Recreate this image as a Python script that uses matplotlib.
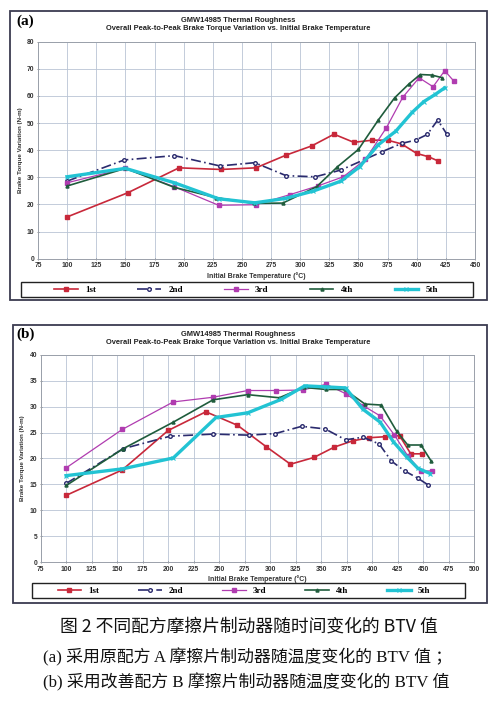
import matplotlib
matplotlib.use("Agg")
import matplotlib.pyplot as plt
from matplotlib.patches import Rectangle

W, H = 494, 703

# ---------------- data: panel (a) ----------------
a1_x = [100, 152, 196, 232, 262, 288, 310, 329, 346, 362, 375, 387, 400, 410, 418]
a1_y = [15.4, 24.3, 33.5, 32.9, 33.5, 38.2, 41.6, 45.9, 42.9, 43.7, 43.7, 42.3, 38.8, 37.6, 36.1]
a2_x = [100, 149, 192, 231, 261, 288, 313, 335, 370, 387, 399, 409, 418, 426]
a2_y = [28.6, 36.4, 38.0, 34.2, 35.4, 30.6, 30.2, 32.7, 39.4, 42.5, 43.7, 45.8, 51.1, 45.8]
a3_x = [100, 150, 192, 230, 262, 291, 315, 337, 356, 374, 388, 402, 414, 424, 432]
a3_y = [28.0, 33.3, 26.5, 19.7, 19.9, 23.6, 26.8, 30.2, 36.6, 48.3, 59.5, 66.7, 63.4, 69.3, 65.4]
a4_x = [100, 150, 192, 228, 260, 285, 314, 332, 350, 367, 381, 393, 403, 413, 422]
a4_y = [26.8, 33.3, 26.3, 22.5, 20.4, 20.5, 26.5, 33.9, 40.3, 51.1, 59.3, 64.3, 67.9, 67.7, 66.7]
a5_x = [100, 150, 192, 230, 261, 287, 311, 335, 351, 367, 382, 396, 406, 416, 424]
a5_y = [30.2, 33.3, 28.0, 22.1, 20.6, 22.2, 24.9, 28.6, 33.9, 42.0, 47.0, 53.9, 57.9, 60.6, 63.0]

# ---------------- data: panel (b) ----------------
b1_x = [100, 155, 200, 237, 268, 296, 320, 343, 363, 381, 397, 413, 427, 438, 449]
b1_y = [12.9, 17.8, 25.4, 29.0, 26.4, 22.3, 18.9, 20.2, 22.2, 23.4, 24.0, 24.2, 24.4, 20.9, 20.9]
b2_x = [100, 156, 202, 244, 279, 305, 331, 354, 374, 391, 407, 419, 432, 445, 455]
b2_y = [15.2, 21.9, 24.3, 24.7, 24.5, 24.8, 26.2, 25.7, 23.6, 24.1, 22.8, 19.5, 17.6, 16.2, 14.9]
b3_x = [100, 155, 205, 244, 278, 306, 332, 355, 374, 392, 408, 422, 435, 448, 459]
b3_y = [18.2, 25.6, 30.9, 31.8, 33.1, 33.1, 33.2, 34.3, 32.5, 30.1, 28.2, 24.5, 20.5, 17.6, 17.6]
b4_x = [100, 156, 205, 244, 278, 309, 333, 355, 373, 393, 409, 424, 435, 448, 458]
b4_y = [14.8, 21.9, 27.0, 31.3, 32.3, 31.7, 33.7, 33.3, 33.3, 30.5, 30.3, 25.3, 22.6, 22.6, 19.5]
b5_x = [100, 155, 205, 247, 278, 311, 334, 355, 374, 391, 408, 421, 434, 445, 457]
b5_y = [16.7, 18.0, 20.1, 27.9, 28.8, 31.4, 34.0, 33.8, 33.6, 29.5, 27.0, 23.2, 20.3, 18.1, 17.1]

labels = ["1st", "2nd", "3rd", "4th", "5th"]
title_text = ("GMW14985 Thermal Roughness\n"
              "Overall Peak-to-Peak Brake Torque Variation vs. Initial Brake Temperature")
xlabel_text = "Initial Brake Temperature (\u00b0C)"
ylabel_text = "Brake Torque Variation (N-m)"
caption1 = "图 2 不同配方摩擦片制动器随时间变化的 BTV 值"
caption2 = "(a) 采用原配方 A 摩擦片制动器随温度变化的 BTV 值 ；"
caption3 = "(b) 采用改善配方 B 摩擦片制动器随温度变化的 BTV 值"

styles = [
    dict(color="#c8283a", lw=1.2, marker="s", ms=2.6, ls="-"),
    dict(color="#2b2b6e", lw=1.2, marker="o", ms=2.6, ls=(0, (6, 2, 1, 2)), mfc="white"),
    dict(color="#b03cb0", lw=0.9, marker="s", ms=2.6, ls="-"),
    dict(color="#1f5c3c", lw=1.2, marker="^", ms=2.2, ls="-"),
    dict(color="#22c3d3", lw=2.4, marker="x", ms=2.6, ls="-", mew=0.8),
]

fig = plt.figure(figsize=(W / 100, H / 100), dpi=100)
fig.patch.set_facecolor("white")


def px_axes(l, t, r, b):
    return fig.add_axes([l / W, 1 - b / H, (r - l) / W, (b - t) / H])


def frame(l, t, r, b, ec="#3c3c50", lw=1.3):
    fig.add_artist(Rectangle((l / W, 1 - b / H), (r - l) / W, (b - t) / H,
                             transform=fig.transFigure, fill=False,
                             ec=ec, lw=lw))


def panel(ax, series, xlim, xticks, ylim, yticks):
    for (xs, ys), st, lab in zip(series, styles, labels):
        ax.plot(xs, ys, label=lab, **st)
    ax.set_xlim(*xlim)
    ax.set_ylim(*ylim)
    ax.set_xticks(xticks)
    ax.set_yticks(yticks)
    ax.grid(True, color="#b9c4d4", lw=0.6)
    ax.set_axisbelow(True)
    for s in ax.spines.values():
        s.set_color("#9aa0aa")
        s.set_linewidth(0.7)
    ax.tick_params(labelsize=4.9, length=2, width=0.5, color="#666666",
                   pad=1.5, direction="inout")
    for lab in ax.get_xticklabels() + ax.get_yticklabels():
        lab.set_fontweight("bold")
        lab.set_color("#333333")
        lab.set_family("Liberation Sans")
    ax.set_xlabel(xlabel_text, fontsize=5.0, fontweight="bold",
                  family="Liberation Sans", color="#333333", labelpad=2)
    ax.set_ylabel(ylabel_text, fontsize=4.5, fontweight="bold",
                  family="Liberation Sans", color="#333333", labelpad=3)


def legend(ax, cx, cy, colsp):
    lg = ax.legend(loc="center", bbox_to_anchor=(cx / W, 1 - cy / H),
                   bbox_transform=fig.transFigure, ncol=5, frameon=False,
                   prop=dict(family="Liberation Serif", weight="bold", size=6.5),
                   handlelength=2.6, handletextpad=0.8, columnspacing=colsp,
                   borderaxespad=0, borderpad=0)
    return lg


# ---------- panel (a) ----------
frame(10, 11, 487, 300)
axa = px_axes(38, 41.7, 475, 258.7)
panel(axa, [(a1_x, a1_y), (a2_x, a2_y), (a3_x, a3_y), (a4_x, a4_y), (a5_x, a5_y)],
      (75, 450), list(range(75, 451, 25)), (0, 80), list(range(0, 81, 10)))
fig.text(238 / W, 1 - 24.5 / H, title_text, ha="center", va="center",
         fontsize=5.4, fontweight="bold", family="Liberation Sans",
         color="#222222", linespacing=1.15)
fig.text(16 / W, 1 - 21 / H, "(a)", ha="left", va="center", fontsize=11,
         fontweight="bold", family="Liberation Serif")
frame(21, 282, 473, 297, ec="#222222", lw=1.0)
legend(axa, 246, 289.5, 4.6)

# ---------- panel (b) ----------
frame(13, 325, 487, 603)
axb = px_axes(40.7, 354.7, 474, 562.3)
panel(axb, [(b1_x, b1_y), (b2_x, b2_y), (b3_x, b3_y), (b4_x, b4_y), (b5_x, b5_y)],
      (75, 500), list(range(75, 501, 25)), (0, 40), list(range(0, 41, 5)))
fig.text(238 / W, 1 - 338.5 / H, title_text, ha="center", va="center",
         fontsize=5.4, fontweight="bold", family="Liberation Sans",
         color="#222222", linespacing=1.15)
fig.text(16 / W, 1 - 334 / H, "(b)", ha="left", va="center", fontsize=11,
         fontweight="bold", family="Liberation Serif")
frame(32, 583, 465, 598, ec="#222222", lw=1.0)
legend(axb, 244, 591, 4.3)

# ---------- captions ----------
fig.text(249 / W, 1 - 627 / H, caption1, ha="center", va="center", fontsize=12.8,
         family=["Noto Sans CJK SC", "DejaVu Sans"], color="#111111")
fig.text(43 / W, 1 - 657 / H, caption2, ha="left", va="center", fontsize=12.2,
         family=["Liberation Serif", "Noto Sans CJK SC"], color="#111111")
fig.text(43 / W, 1 - 682 / H, caption3, ha="left", va="center", fontsize=12.2,
         family=["Liberation Serif", "Noto Sans CJK SC"], color="#111111")

fig.savefig("out.png", dpi=100, facecolor="white")
